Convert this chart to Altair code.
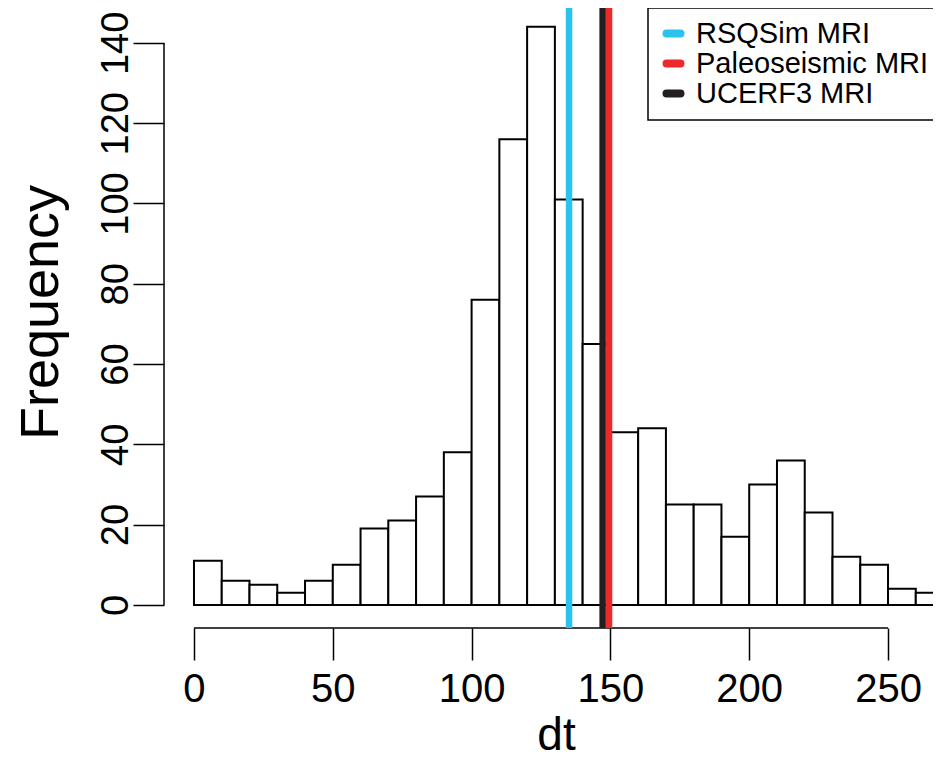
import altair as alt
import pandas as pd

# ---- data ----
bin_start = [0, 10, 20, 30, 40, 50, 60, 70, 80, 90, 100, 110, 120, 130,
             140, 150, 160, 170, 180, 190, 200, 210, 220, 230, 240, 250, 260]
bin_width = 10
counts = [11, 6, 5, 3, 6, 10, 19, 21, 27, 38, 76, 116, 144, 101,
          65, 43, 44, 25, 25, 17, 30, 36, 23, 12, 10, 4, 3]

legend_names = ["RSQSim MRI", "Paleoseismic MRI", "UCERF3 MRI"]
legend_colors = ["#2BC3EE", "#EC2A2A", "#231F20"]
# drawing order: cyan, black, red
line_names = ["RSQSim MRI", "UCERF3 MRI", "Paleoseismic MRI"]
line_values = [135.1, 147.2, 149.5]

x_ticks = [0, 50, 100, 150, 200, 250]
y_ticks = [0, 20, 40, 60, 80, 100, 120, 140]

FONT = "Liberation Sans"
CAPSULE = ("M -1 -0.2857 L 1 -0.2857 A 0.2857 0.2857 0 0 1 1 0.2857 "
           "L -1 0.2857 A 0.2857 0.2857 0 0 1 -1 -0.2857 Z")

df_bars = pd.DataFrame({
    "start": bin_start,
    "end": [s + bin_width for s in bin_start],
    "count": counts,
    "zero": [0] * len(counts),
})
df_lines = pd.DataFrame({"name": line_names, "value": line_values})
df_xaxis = pd.DataFrame({"a": [x_ticks[0]], "b": [x_ticks[-1]]})
df_yaxis = pd.DataFrame({"a": [y_ticks[0]], "b": [y_ticks[-1]]})

xs = alt.Scale(domain=[-10.8, 266.2], nice=False, zero=False)
ys = alt.Scale(domain=[-5.76, 148.7], nice=False, zero=False)

bars = alt.Chart(df_bars).mark_rect(fill="white", stroke="black", strokeWidth=2).encode(
    x=alt.X("start:Q", scale=xs, title="dt", axis=alt.Axis(
        values=x_ticks, tickSize=32, tickWidth=1.5, tickColor="black",
        labelFontSize=40, labelPadding=9, labelFlush=False, labelOverlap=False,
        labelColor="black", labelFont=FONT,
        titleFontSize=46, titleFont=FONT, titleFontWeight="normal", titleColor="black",
        titleX=392, titleY=121, titleBaseline="alphabetic", titleAlign="center",
        domain=False, grid=False)),
    x2="end:Q",
    y=alt.Y("count:Q", scale=ys, title="Frequency", axis=alt.Axis(
        values=y_ticks, tickSize=31, tickWidth=1.5, tickColor="black",
        labelFontSize=38, labelAngle=270, labelAlign="center", labelBaseline="alphabetic",
        labelPadding=6, labelFlush=False, labelOverlap=False,
        labelColor="black", labelFont=FONT,
        titleFontSize=54, titleFont=FONT, titleFontWeight="normal", titleColor="black",
        titleAngle=270, titleX=-107, titleY=304, titleBaseline="alphabetic",
        titleAlign="center", domain=False, grid=False)),
    y2="zero:Q",
)

xaxis_line = alt.Chart(df_xaxis).mark_rule(color="black", strokeWidth=1.5).encode(
    x=alt.X("a:Q", scale=xs, title="dt"),
    x2="b:Q",
    y=alt.value(620),
)

yaxis_line = alt.Chart(df_yaxis).mark_rule(color="black", strokeWidth=1.5).encode(
    y=alt.Y("a:Q", scale=ys, title="Frequency"),
    y2="b:Q",
    x=alt.value(0),
)

vlines = alt.Chart(df_lines).mark_rule(strokeWidth=6.5).encode(
    x=alt.X("value:Q", scale=xs, title="dt"),
    color=alt.Color("name:N", title=None,
                    scale=alt.Scale(domain=legend_names, range=legend_colors),
                    legend=alt.Legend(
                        orient="none", legendX=484, legendY=0,
                        symbolType=CAPSULE, symbolSize=196, symbolStrokeWidth=4,
                        labelFontSize=29, labelFont=FONT, labelColor="black",
                        labelLimit=400, labelOffset=8, padding=11, rowPadding=-3,
                        strokeColor="black", fillColor="white",
                    )),
)

chart = alt.layer(bars, xaxis_line, yaxis_line, vlines).properties(
    width=769,
    height=620,
    autosize=alt.AutoSizeParams(type="none"),
    padding={"left": 156, "top": 0, "right": 0, "bottom": 132},
    background="white",
).configure_view(strokeWidth=0).configure_legend(strokeWidth=1.5)

chart.save("out.html", embed_options={"renderer": "svg", "actions": False})
